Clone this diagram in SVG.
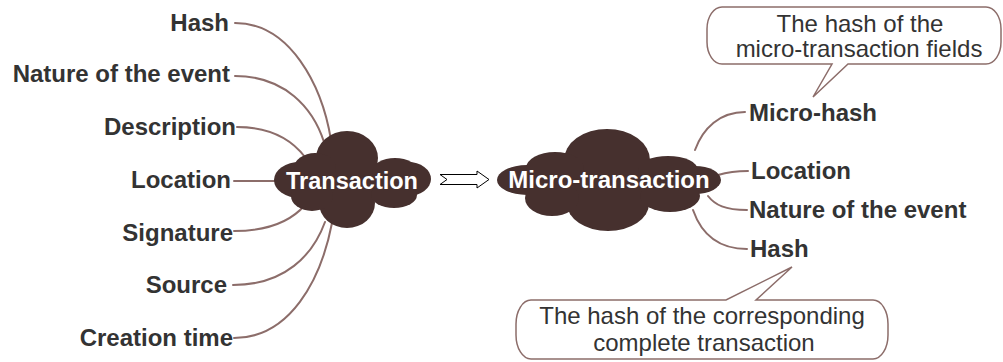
<svg xmlns="http://www.w3.org/2000/svg" width="1003" height="362" viewBox="0 0 1003 362">
<style>
.lbl{font-family:"Liberation Sans",Arial,sans-serif;font-weight:bold;font-size:24px;fill:#333333}
.ctr{font-family:"Liberation Sans",Arial,sans-serif;font-weight:bold;fill:#ffffff;text-anchor:middle}
.note{font-family:"Liberation Sans",Arial,sans-serif;font-size:24px;fill:#333333;text-anchor:middle}
.con{fill:none;stroke:#8C6D6A;stroke-width:2;stroke-linecap:round}
.cloud{fill:#46302E}
.callout{fill:#ffffff;stroke:#8C6D6A;stroke-width:1.5}
</style>
<g id="connectors">
<path class="con" d="M235,23 C290,23 322,85 331,140"/>
<path class="con" d="M235,76 C285,76 313,108 324,142"/>
<path class="con" d="M237,127 C270,127 292,140 305,157"/>
<path class="con" d="M234,181 L280,181"/>
<path class="con" d="M234,231 C270,231 292,220 305,205"/>
<path class="con" d="M233,285 C285,285 313,255 325,222"/>
<path class="con" d="M234,338 C290,338 321,280 332,223"/>
<path class="con" d="M745,112 C720,112 703,128 695,150"/>
<path class="con" d="M748,171 C735,171 728,172 718,175"/>
<path class="con" d="M747,210 C725,210 715,205 708,196"/>
<path class="con" d="M747,249 C715,249 700,230 693,210"/>
<path d="M440,174.5 L477,174.5 L477,171 L489,179.5 L477,188 L477,184.5 L440,184.5 L447,179.5 Z" fill="#ffffff" stroke="#000000" stroke-width="1"/>
</g>
<g id="transaction">
<g class="cloud">
<rect x="300" y="163" width="108" height="33"/>
<ellipse cx="300" cy="180" rx="26" ry="18"/>
<ellipse cx="408" cy="179" rx="23" ry="17"/>
<ellipse cx="347" cy="158" rx="31" ry="27"/>
<ellipse cx="315" cy="168" rx="21" ry="15"/>
<ellipse cx="395" cy="172" rx="23" ry="14"/>
<ellipse cx="347" cy="203" rx="28" ry="25"/>
<ellipse cx="312" cy="196" rx="21" ry="15"/>
<ellipse cx="394" cy="195" rx="23" ry="13"/>
</g>
<text class="ctr" x="352" y="189" font-size="23.5">Transaction</text>
</g>
<g id="micro-transaction">
<g class="cloud">
<rect x="527" y="165" width="168" height="29"/>
<ellipse cx="527" cy="180" rx="30" ry="15"/>
<ellipse cx="695" cy="180" rx="26" ry="14"/>
<ellipse cx="607" cy="160" rx="43" ry="31"/>
<ellipse cx="555" cy="168" rx="29" ry="16"/>
<ellipse cx="668" cy="170" rx="30" ry="14"/>
<ellipse cx="608" cy="204" rx="41" ry="27"/>
<ellipse cx="552" cy="198" rx="27" ry="18"/>
<ellipse cx="670" cy="196" rx="30" ry="16"/>
</g>
<text class="ctr" x="609" y="188" font-size="24">Micro-transaction</text>
</g>
<g id="left-labels" text-anchor="end">
<g id="l-hash"><text class="lbl" x="229" y="31">Hash</text></g>
<g id="l-nature"><text class="lbl" x="230" y="82">Nature of the event</text></g>
<g id="l-description"><text class="lbl" x="236" y="135">Description</text></g>
<g id="l-location"><text class="lbl" x="231" y="188">Location</text></g>
<g id="l-signature"><text class="lbl" x="233" y="241">Signature</text></g>
<g id="l-source"><text class="lbl" x="227" y="293">Source</text></g>
<g id="l-creation"><text class="lbl" x="233" y="346">Creation time</text></g>
</g>
<g id="right-labels">
<g id="r-microhash"><text class="lbl" x="749" y="121">Micro-hash</text></g>
<g id="r-location"><text class="lbl" x="751" y="179">Location</text></g>
<g id="r-nature"><text class="lbl" x="749" y="218">Nature of the event</text></g>
<g id="r-hash"><text class="lbl" x="750" y="257">Hash</text></g>
</g>
<g id="callout-top">
<path class="callout" d="M722,7 H986 A15,22 0 0 1 1001,29 V42 A15,22 0 0 1 986,64 H848 L813,97 L832,64 H722 A15,22 0 0 1 707,42 V29 A15,22 0 0 1 722,7 Z"/>
<text class="note" x="860" y="32">The hash of the</text>
<text class="note" x="859" y="57">micro-transaction fields</text>
</g>
<g id="callout-bottom">
<path class="callout" d="M531,300 H726 L792,267 L756,300 H873 A15,24 0 0 1 888,324 V335 A15,24 0 0 1 873,359 H531 A15,24 0 0 1 516,335 V324 A15,24 0 0 1 531,300 Z"/>
<text class="note" x="702" y="324">The hash of the corresponding</text>
<text class="note" x="704" y="351">complete transaction</text>
</g>
</svg>
